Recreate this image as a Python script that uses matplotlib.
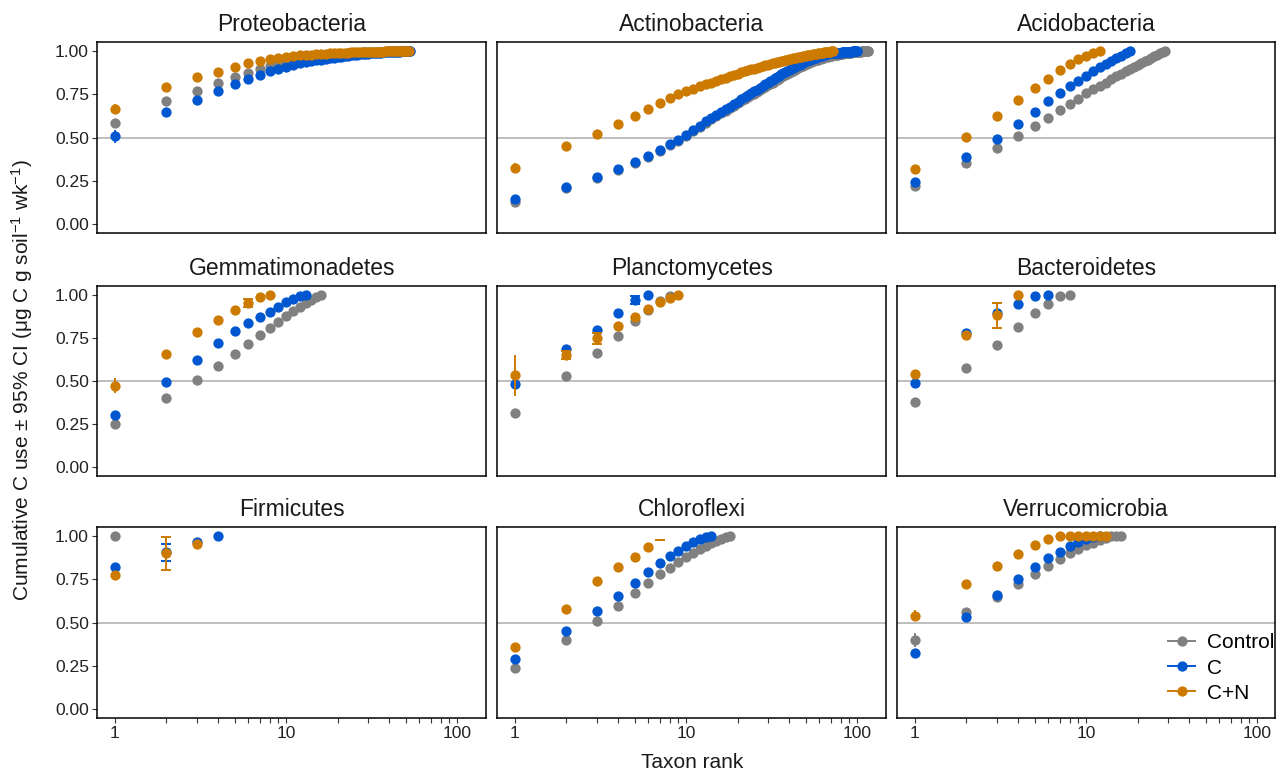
import numpy as np
import matplotlib
matplotlib.use('Agg')
import matplotlib.pyplot as plt
from matplotlib.lines import Line2D
from matplotlib.ticker import FixedLocator, NullFormatter

plt.rcParams['font.family'] = ['Liberation Sans', 'DejaVu Sans']
plt.rcParams['mathtext.fontset'] = 'custom'
plt.rcParams['mathtext.rm'] = 'Liberation Sans'
plt.rcParams['mathtext.it'] = 'Liberation Sans:italic'

panels = ['Proteobacteria', 'Actinobacteria', 'Acidobacteria',
          'Gemmatimonadetes', 'Planctomycetes', 'Bacteroidetes',
          'Firmicutes', 'Chloroflexi', 'Verrucomicrobia']
treatments = ['Control', 'C', 'C+N']
colors = ['#808080', '#0057CF', '#CC7A00']

# cumulative C use by taxon rank (rank = position in list, starting at 1)
proteo_control = [0.584, 0.711, 0.769, 0.813, 0.848, 0.873, 0.894, 0.913, 0.929, 0.940,
                  0.948, 0.955, 0.960, 0.965, 0.969, 0.972, 0.975, 0.978, 0.980, 0.982,
                  0.984, 0.985, 0.987, 0.988, 0.989, 0.990, 0.991, 0.992, 0.993, 0.993,
                  0.994, 0.995, 0.995, 0.996, 0.996, 0.997, 0.997, 0.997, 0.998, 0.998,
                  0.998, 0.998, 0.999, 0.999, 0.999, 0.999, 0.999, 1.0, 1.0, 1.0,
                  1.0, 1.0, 1.0]
proteo_c = [0.507, 0.649, 0.719, 0.771, 0.807, 0.838, 0.861, 0.883, 0.898, 0.910,
            0.920, 0.928, 0.935, 0.941, 0.946, 0.951, 0.955, 0.959, 0.962, 0.965,
            0.968, 0.971, 0.973, 0.975, 0.977, 0.979, 0.981, 0.982, 0.984, 0.985,
            0.986, 0.987, 0.988, 0.989, 0.990, 0.991, 0.992, 0.993, 0.993, 0.994,
            0.995, 0.995, 0.996, 0.996, 0.997, 0.997, 0.998, 0.998, 0.999, 0.999,
            1.0, 1.0, 1.0]
proteo_cn = [0.665, 0.792, 0.848, 0.879, 0.908, 0.929, 0.942, 0.952, 0.962, 0.968,
             0.972, 0.975, 0.978, 0.980, 0.982, 0.984, 0.985, 0.986, 0.987, 0.988,
             0.989, 0.990, 0.991, 0.992, 0.992, 0.993, 0.993, 0.994, 0.994, 0.995,
             0.995, 0.996, 0.996, 0.996, 0.997, 0.997, 0.997, 0.998, 0.998, 0.998,
             0.998, 0.999, 0.999, 0.999, 0.999, 0.999, 1.0, 1.0, 1.0, 1.0,
             1.0, 1.0]

actino_control = [0.129, 0.208, 0.266, 0.314, 0.351, 0.389, 0.424, 0.455, 0.481, 0.507,
                  0.535, 0.561, 0.585, 0.606, 0.624, 0.640, 0.656, 0.670, 0.684, 0.697,
                  0.709, 0.721, 0.732, 0.743, 0.754, 0.764, 0.774, 0.784, 0.793, 0.802,
                  0.810, 0.818, 0.826, 0.834, 0.841, 0.848, 0.855, 0.862, 0.868, 0.874,
                  0.880, 0.886, 0.891, 0.896, 0.901, 0.906, 0.911, 0.915, 0.919, 0.923,
                  0.927, 0.931, 0.934, 0.937, 0.940, 0.943, 0.946, 0.949, 0.951, 0.954,
                  0.956, 0.958, 0.960, 0.962, 0.964, 0.966, 0.968, 0.969, 0.971, 0.972,
                  0.974, 0.975, 0.976, 0.977, 0.978, 0.979, 0.980, 0.981, 0.982, 0.983,
                  0.984, 0.985, 0.986, 0.986, 0.987, 0.988, 0.988, 0.989, 0.990, 0.990,
                  0.991, 0.991, 0.992, 0.992, 0.993, 0.993, 0.994, 0.994, 0.995, 0.995,
                  0.996, 0.996, 0.996, 0.997, 0.997, 0.998, 0.998, 0.998, 0.999, 0.999,
                  0.999, 0.999, 1.0, 1.0, 1.0, 1.0]
actino_c = [0.143, 0.214, 0.272, 0.320, 0.357, 0.395, 0.430, 0.461, 0.487, 0.513,
            0.542, 0.568, 0.593, 0.614, 0.632, 0.649, 0.665, 0.679, 0.694, 0.707,
            0.720, 0.732, 0.744, 0.755, 0.767, 0.777, 0.788, 0.798, 0.807, 0.816,
            0.825, 0.834, 0.842, 0.850, 0.858, 0.865, 0.872, 0.879, 0.886, 0.892,
            0.897, 0.903, 0.908, 0.913, 0.918, 0.922, 0.927, 0.931, 0.936, 0.940,
            0.944, 0.948, 0.951, 0.954, 0.956, 0.959, 0.961, 0.964, 0.966, 0.969,
            0.971, 0.973, 0.976, 0.978, 0.980, 0.983, 0.985, 0.987, 0.987, 0.988,
            0.988, 0.988, 0.989, 0.989, 0.989, 0.990, 0.990, 0.990, 0.991, 0.991,
            0.992, 0.992, 0.992, 0.993, 0.993, 0.994, 0.994, 0.995, 0.995, 0.996,
            0.996, 0.997, 0.997, 0.998, 0.998, 0.999, 0.999, 0.999, 1.0, 1.0]
actino_cn = [0.326, 0.453, 0.520, 0.576, 0.624, 0.665, 0.699, 0.727, 0.750, 0.769,
             0.783, 0.796, 0.807, 0.818, 0.828, 0.837, 0.846, 0.854, 0.862, 0.869,
             0.876, 0.883, 0.889, 0.894, 0.899, 0.904, 0.909, 0.913, 0.918, 0.922,
             0.926, 0.929, 0.932, 0.935, 0.938, 0.941, 0.944, 0.947, 0.950, 0.952,
             0.955, 0.957, 0.959, 0.961, 0.964, 0.966, 0.968, 0.970, 0.971, 0.973,
             0.975, 0.977, 0.978, 0.980, 0.981, 0.982, 0.984, 0.985, 0.986, 0.987,
             0.989, 0.990, 0.991, 0.992, 0.993, 0.994, 0.995, 0.996, 0.997, 0.998,
             0.999, 1.0]

acido_control = [0.220, 0.351, 0.441, 0.509, 0.565, 0.615, 0.657, 0.694, 0.724, 0.755,
                 0.780, 0.800, 0.818, 0.837, 0.855, 0.869, 0.883, 0.896, 0.908, 0.919,
                 0.930, 0.940, 0.950, 0.960, 0.969, 0.978, 0.986, 0.994, 1.0]
acido_c = [0.241, 0.389, 0.491, 0.576, 0.649, 0.711, 0.759, 0.796, 0.828, 0.857,
           0.884, 0.906, 0.927, 0.944, 0.958, 0.973, 0.987, 1.0]
acido_cn = [0.318, 0.503, 0.626, 0.717, 0.784, 0.836, 0.888, 0.923, 0.952, 0.973,
            0.987, 1.0]

gemma_control = [0.252, 0.403, 0.506, 0.585, 0.655, 0.713, 0.766, 0.808, 0.843, 0.876,
                 0.905, 0.932, 0.952, 0.971, 0.990, 1.0]
gemma_c = [0.301, 0.492, 0.620, 0.719, 0.791, 0.835, 0.874, 0.899, 0.932, 0.959,
           0.978, 0.994, 1.0]
gemma_cn = [0.473, 0.659, 0.787, 0.857, 0.911, 0.952, 0.990, 1.0]

plancto_control = [0.316, 0.531, 0.663, 0.763, 0.847, 0.911, 0.966, 0.993]
plancto_c = [0.481, 0.686, 0.797, 0.893, 0.971, 1.0]
plancto_cn = [0.535, 0.651, 0.748, 0.820, 0.874, 0.920, 0.957, 0.984, 1.0]

bactero_control = [0.380, 0.576, 0.708, 0.816, 0.895, 0.950, 0.994, 1.0]
bactero_c = [0.488, 0.777, 0.893, 0.950, 0.992, 1.0]
bactero_cn = [0.539, 0.766, 0.882, 1.0]

firmi_control = [1.0]
firmi_c = [0.823, 0.905, 0.967, 1.0]
firmi_cn = [0.773, 0.900, 0.952]

chloro_control = [0.235, 0.401, 0.509, 0.594, 0.669, 0.730, 0.778, 0.817, 0.848, 0.877,
                  0.902, 0.923, 0.942, 0.960, 0.973, 0.984, 0.994, 1.0]
chloro_c = [0.289, 0.453, 0.568, 0.653, 0.728, 0.794, 0.846, 0.886, 0.916, 0.942,
            0.963, 0.981, 0.994, 1.0]
chloro_cn = [0.357, 0.578, 0.740, 0.823, 0.879, 0.935]

verruco_control = [0.399, 0.561, 0.649, 0.721, 0.778, 0.828, 0.869, 0.900, 0.926, 0.946,
                   0.961, 0.975, 0.988, 0.998, 1.0, 1.0]
verruco_c = [0.322, 0.530, 0.659, 0.750, 0.821, 0.873, 0.909, 0.940, 0.963, 0.981,
             0.994, 1.0]
verruco_cn = [0.538, 0.721, 0.827, 0.896, 0.948, 0.981, 0.998, 1.0, 1.0, 1.0,
              1.0, 1.0, 1.0]

# visible 95% CI bars (panel, treatment, rank, low, high)
err_panel = ['Proteobacteria', 'Proteobacteria', 'Actinobacteria', 'Gemmatimonadetes',
             'Gemmatimonadetes', 'Planctomycetes', 'Planctomycetes', 'Planctomycetes',
             'Planctomycetes', 'Bacteroidetes', 'Bacteroidetes', 'Firmicutes',
             'Firmicutes', 'Chloroflexi', 'Verrucomicrobia', 'Verrucomicrobia']
err_group = ['C', 'C+N', 'C+N', 'C+N', 'C+N', 'C+N', 'C+N', 'C+N',
             'C', 'C+N', 'C+N', 'C', 'C+N', 'C+N', 'Control', 'C+N']
err_rank = [1, 1, 1, 1, 6, 1, 2, 3, 5, 1, 3, 2, 2, 7, 1, 1]
err_lo = [0.470, 0.635, 0.300, 0.428, 0.930, 0.413, 0.625, 0.715, 0.945, 0.515,
          0.806, 0.857, 0.803, 0.977, 0.360, 0.510]
err_hi = [0.545, 0.695, 0.355, 0.516, 0.975, 0.651, 0.675, 0.780, 0.995, 0.565,
          0.955, 0.952, 0.996, 0.977, 0.440, 0.570]

values = {
    'Proteobacteria': [proteo_control, proteo_c, proteo_cn],
    'Actinobacteria': [actino_control, actino_c, actino_cn],
    'Acidobacteria': [acido_control, acido_c, acido_cn],
    'Gemmatimonadetes': [gemma_control, gemma_c, gemma_cn],
    'Planctomycetes': [plancto_control, plancto_c, plancto_cn],
    'Bacteroidetes': [bactero_control, bactero_c, bactero_cn],
    'Firmicutes': [firmi_control, firmi_c, firmi_cn],
    'Chloroflexi': [chloro_control, chloro_c, chloro_cn],
    'Verrucomicrobia': [verruco_control, verruco_c, verruco_cn],
}

W, H = 1276, 771
fig = plt.figure(figsize=(W / 100, H / 100), dpi=100)

# panel placement in pixels
col_left = [97.3, 497.3, 897.3]
col_width = [388.7, 388.7, 377.7]
row_top = [42.4, 286.4, 527.4]
row_height = [190.2, 189.2, 190.3]
px_per_decade = 388.7 / 2.2709
log_lo = -0.1032

for i, name in enumerate(panels):
    r, c = divmod(i, 3)
    ax = fig.add_axes([col_left[c] / W, 1 - (row_top[r] + row_height[r]) / H,
                       col_width[c] / W, row_height[r] / H])
    ax.set_xscale('log')
    ax.set_xlim(10 ** log_lo, 10 ** (log_lo + col_width[c] / px_per_decade))
    ax.set_ylim(-0.05, 1.05)
    ax.axhline(0.5, color='#BEBEBE', lw=1.4, zorder=1)

    for k, (tr, col) in enumerate(zip(treatments, colors)):
        for p, g, rk, lo, hi in zip(err_panel, err_group, err_rank, err_lo, err_hi):
            if p == name and g == tr:
                mid = (lo + hi) / 2
                ax.errorbar([rk], [mid], yerr=[[mid - lo], [hi - mid]], fmt='none',
                            ecolor=col, elinewidth=1.4,
                            capsize=0 if rk == 1 else 3.5, capthick=1.4,
                            zorder=2 + 2 * k)
        y = values[name][k]
        x = np.arange(1, len(y) + 1)
        ax.plot(x, y, 'o', color=col, markersize=7.4, markeredgewidth=0,
                zorder=3 + 2 * k)

    ax.set_title(name, fontsize=16.5, pad=8.5, color='#1a1a1a')
    for s in ax.spines.values():
        s.set_linewidth(1.1)
        s.set_color('black')

    ax.xaxis.set_major_locator(FixedLocator([1, 10, 100]))
    ax.xaxis.set_minor_locator(FixedLocator([2, 3, 4, 5, 6, 7, 8, 9,
                                             20, 30, 40, 50, 60, 70, 80, 90]))
    ax.xaxis.set_minor_formatter(NullFormatter())
    ax.set_xticklabels(['1', '10', '100'])
    ax.set_yticks([0, 0.25, 0.5, 0.75, 1.0])
    ax.set_yticklabels(['0.00', '0.25', '0.50', '0.75', '1.00'])
    ax.tick_params(which='both', length=3.5, width=0.8, color='#333333',
                   labelsize=12.6, labelcolor='#222222', pad=2.5)
    if c != 0:
        ax.tick_params(axis='y', which='both', left=False, labelleft=False)
    if r != 2:
        ax.tick_params(axis='x', which='both', bottom=False, labelbottom=False)

fig.text(22 / W, 1 - 380 / H,
         'Cumulative C use \u00b1 95% CI (\u03bcg C g soil$^{-1}$ wk$^{-1}$)',
         rotation=90, ha='center', va='center', fontsize=15, color='#1a1a1a')
fig.text(692 / W, 1 - 762 / H, 'Taxon rank', ha='center', va='center',
         fontsize=15, color='#1a1a1a')

handles = [Line2D([0], [0], color=col, lw=1.4, marker='o', markersize=7.4,
                  markeredgewidth=0) for col in colors]
fig.legend(handles, treatments, loc='center left',
           bbox_to_anchor=(1168 / W, 1 - 668 / H), frameon=False, fontsize=15,
           handlelength=1.3, handletextpad=0.55, labelspacing=0.3,
           borderpad=0, borderaxespad=0)

fig.savefig('out.png', dpi=100)
